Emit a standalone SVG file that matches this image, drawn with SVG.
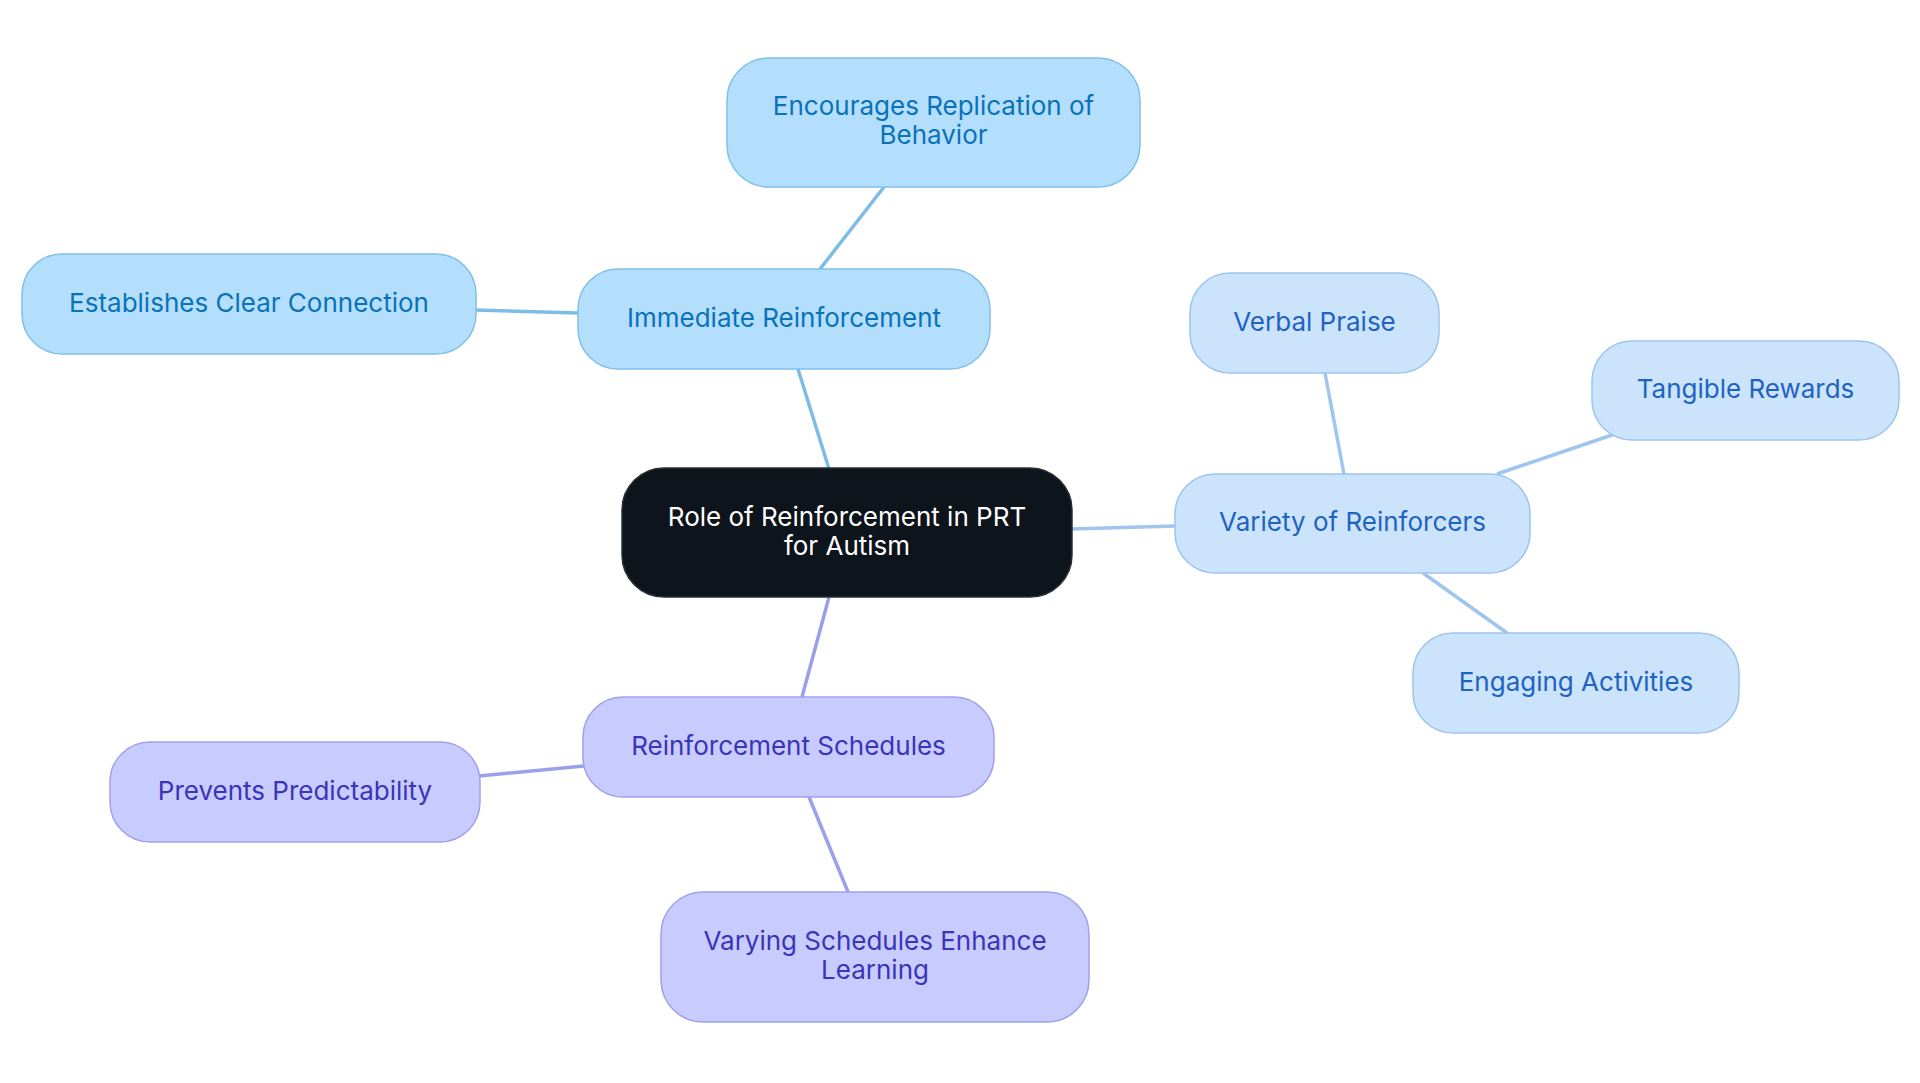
<svg xmlns="http://www.w3.org/2000/svg" width="1920" height="1083" viewBox="0 0 1920 1083">
<style>
text{font-family:Inter,"Noto Sans",sans-serif;font-size:26px;text-anchor:middle}
.c0 rect{fill:#0d141b;stroke:#2a3036;stroke-width:1.5}
.c0 text{fill:#ffffff}
.b1 rect{fill:#b3dffc;stroke:#7fc0ea;stroke-width:1.5}
.b1 text{fill:#0a72b8}
.b2 rect{fill:#cce4fb;stroke:#9dc3ee;stroke-width:1.5}
.b2 text{fill:#1f63c2}
.b3 rect{fill:#c8cbfd;stroke:#9ea1ec;stroke-width:1.5}
.b3 text{fill:#3a34b8}
.l1{stroke:#7cbde8;stroke-width:3.5;fill:none}
.l2{stroke:#a0c5ee;stroke-width:3.5;fill:none}
.l3{stroke:#9c9fe9;stroke-width:3.5;fill:none}
</style>
<rect width="1920" height="1083" fill="#ffffff"/>
<g id="connectors">
<line class="l1" x1="829" y1="469" x2="798" y2="369"/>
<line class="l1" x1="820" y1="269" x2="884" y2="187"/>
<line class="l1" x1="578" y1="313" x2="475" y2="310"/>
<line class="l2" x1="1071" y1="529" x2="1176" y2="526"/>
<line class="l2" x1="1344" y1="474" x2="1325" y2="373"/>
<line class="l2" x1="1497" y1="474" x2="1615" y2="434"/>
<line class="l2" x1="1423" y1="573" x2="1507" y2="633"/>
<line class="l3" x1="829" y1="597" x2="802" y2="697"/>
<line class="l3" x1="584" y1="766" x2="479" y2="776"/>
<line class="l3" x1="809" y1="797" x2="848" y2="892"/>
</g>
<g id="central" class="c0">
<rect x="622" y="468" width="450" height="129" rx="42"/>
<text x="847" y="526">Role of Reinforcement in PRT</text>
<text x="847" y="555">for Autism</text>
</g>
<g id="immediate" class="b1">
<rect x="578" y="269" width="412" height="100" rx="40"/>
<text x="784" y="327">Immediate Reinforcement</text>
</g>
<g id="encourages" class="b1">
<rect x="727" y="58" width="413" height="129" rx="42"/>
<text x="933.5" y="115">Encourages Replication of</text>
<text x="933.5" y="144">Behavior</text>
</g>
<g id="establishes" class="b1">
<rect x="22" y="254" width="454" height="100" rx="40"/>
<text x="249" y="311.5">Establishes Clear Connection</text>
</g>
<g id="variety" class="b2">
<rect x="1175" y="474" width="355" height="99" rx="40"/>
<text x="1352.5" y="531">Variety of Reinforcers</text>
</g>
<g id="verbal" class="b2">
<rect x="1190" y="273" width="249" height="100" rx="40"/>
<text x="1314.5" y="330.5">Verbal Praise</text>
</g>
<g id="tangible" class="b2">
<rect x="1592" y="341" width="307" height="99" rx="40"/>
<text x="1745.5" y="398">Tangible Rewards</text>
</g>
<g id="engaging" class="b2">
<rect x="1413" y="633" width="326" height="100" rx="40"/>
<text x="1576" y="690.5">Engaging Activities</text>
</g>
<g id="schedules" class="b3">
<rect x="583" y="697" width="411" height="100" rx="40"/>
<text x="788.5" y="754.5">Reinforcement Schedules</text>
</g>
<g id="prevents" class="b3">
<rect x="110" y="742" width="370" height="100" rx="40"/>
<text x="295" y="799.5">Prevents Predictability</text>
</g>
<g id="varying" class="b3">
<rect x="661" y="892" width="428" height="130" rx="42"/>
<text x="875" y="950">Varying Schedules Enhance</text>
<text x="875" y="979">Learning</text>
</g>
</svg>
